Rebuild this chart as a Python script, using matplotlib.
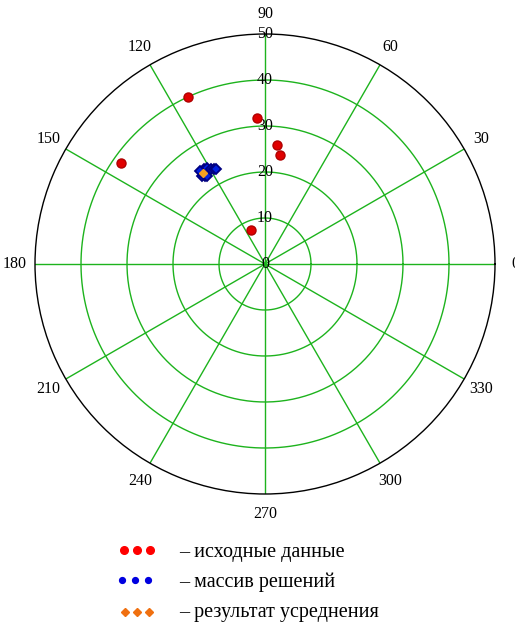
import numpy as np
import matplotlib
matplotlib.use("Agg")
import matplotlib.pyplot as plt

# ---- data (angle in degrees, radius) ----
src_theta = [114.9, 145.0, 93.2, 84.2, 82.2, 112.4]
src_r = [40.0, 38.1, 31.7, 25.9, 24.0, 8.0]

sol_theta = [124.3, 123.0, 125.5, 124.0, 122.0, 121.0, 119.5, 118.0, 117.5, 125.0, 123.5]
sol_r = [23.9, 24.5, 23.5, 23.2, 24.0, 24.3, 23.8, 23.5, 23.3, 24.6, 23.0]

avg_theta = [124.3]
avg_r = [23.9]

ring_values = [10, 20, 30, 40]
rmax = 50
angle_ticks = list(range(0, 360, 30))
legend_labels = ["– исходные данные", "– массив решений", "– результат усреднения"]

W, H = 515, 622
fig = plt.figure(figsize=(W / 100, H / 100), dpi=100)
fig.patch.set_facecolor("white")

cx, cy, R = 265, 264, 230
ax = fig.add_axes([(cx - R) / W, (H - cy - R) / H, 2 * R / W, 2 * R / H], projection="polar")
ax.set_ylim(0, rmax)
ax.grid(False)
ax.set_xticks([])
ax.set_yticks([])
ax.spines["polar"].set_color("black")
ax.spines["polar"].set_linewidth(1.0)

serif = "Liberation Serif"
green = "#1db31d"

t = np.linspace(0, 2 * np.pi, 400)
for rv in ring_values:
    ax.plot(t, np.full_like(t, rv), color=green, lw=1.0, zorder=1)
for a in angle_ticks:
    ax.plot([np.radians(a)] * 2, [0, rmax], color=green, lw=1.0, zorder=1)
    ax.text(np.radians(a), rmax * 1.087, str(a), ha="center", va="center",
            fontsize=11.5, family=serif, clip_on=False)

for rv in [0] + ring_values + [rmax]:
    ax.text(np.radians(90), rv, str(rv), ha="center", va="center",
            fontsize=11.5, family=serif, zorder=2)

ax.plot(np.radians(src_theta), src_r, "o", color="#e00000", mec="#b00000",
        ms=6.5, ls="none", zorder=4)
ax.plot(np.radians(sol_theta), sol_r, "D", color="#0020e0", mec="#000080",
        mew=1.3, ms=5.5, ls="none", zorder=4)
ax.plot(np.radians(avg_theta), avg_r, "D", color="#f5a020", mec="#f5a020",
        ms=4.5, ls="none", zorder=5)

# ---- legend ----
lax = fig.add_axes([0, 0, 1, 1])
lax.set_xlim(0, W)
lax.set_ylim(H, 0)
lax.axis("off")
lax.plot([124, 137, 150], [550, 550, 550], "o", color="#ff0000", ms=5.5, ls="none")
lax.plot([122, 135, 148], [580, 580, 580], "o", color="#0000e0", ms=4.2, ls="none")
lax.plot([125, 137, 149], [612, 612, 612], "D", color="#f07010", ms=4.2, ls="none")
for y, lab in zip([552, 582, 612], legend_labels):
    lax.text(179, y, lab, ha="left", va="center", fontsize=14.5, family=serif)

fig.savefig("out.png", dpi=100)
